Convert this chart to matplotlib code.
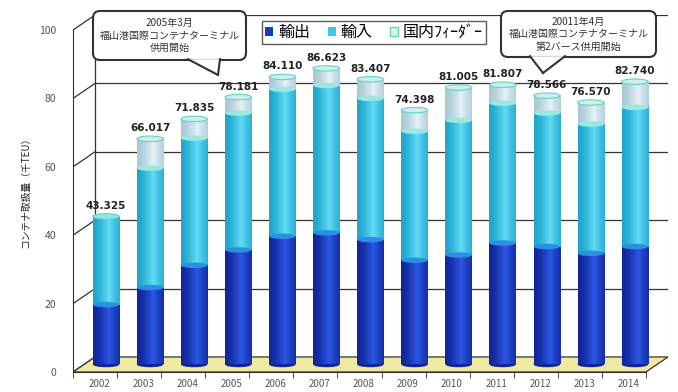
import matplotlib.pyplot as plt
from matplotlib.patches import Ellipse, Polygon, FancyBboxPatch, Patch
from matplotlib.lines import Line2D
from matplotlib.colors import to_rgb
from matplotlib.transforms import Affine2D
import numpy as np

plt.rcParams['font.family'] = ['Noto Sans CJK JP', 'DejaVu Sans']

# データ（千TEU）
years = ['2002', '2003', '2004', '2005', '2006', '2007', '2008',
         '2009', '2010', '2011', '2012', '2013', '2014']
export = [17.5, 22.5, 29.0, 33.5, 37.5, 38.5, 36.5, 30.5, 32.0, 35.5, 34.5, 32.5, 34.5]
imports = [25.8, 34.9, 37.2, 40.0, 43.0, 43.1, 41.3, 37.7, 39.4, 40.9, 39.0, 37.8, 40.7]
feeder = [0.0, 8.6, 5.6, 4.7, 3.6, 5.0, 5.6, 6.2, 9.6, 5.4, 5.1, 6.3, 7.5]
total_labels = ['43.325', '66.017', '71.835', '78.181', '84.110', '86.623', '83.407',
                '74.398', '81.005', '81.807', '78.566', '76.570', '82.740']
series_names = ['輸出', '輸入', '国内ﾌｨｰﾀﾞｰ']
yticks = [0, 20, 40, 60, 80, 100]

W, H = 678, 392
fig = plt.figure(figsize=(W / 100, H / 100), dpi=100)
# 画素座標（左上原点）用の変換
px = Affine2D().scale(1 / W, -1 / H).translate(0, 1) + fig.transFigure

# 奥行き（3D風）
dx, dy = 0.5, 4.4
ax = fig.add_axes([73 / W, (H - 372) / H, (668 - 73) / W, (372 - 15) / H])
ax.set_xlim(-0.5, 12.5 + dx)
ax.set_ylim(0, 100 + dy)

# 背面の壁と床
for v in yticks:
    ax.plot([-0.5, 0], [v, v + dy], color='#333333', lw=0.9, zorder=1)
    if v > 0:
        ax.plot([0, 13], [v + dy, v + dy], color='#333333', lw=0.9, zorder=1)
ax.plot([0, 0], [dy, 100 + dy], color='#333333', lw=0.9, zorder=1)
ax.plot([13, 13], [dy, 100 + dy], color='#bbbbbb', lw=0.8, zorder=1)
floor = Polygon([(-0.5, 0), (12.5, 0), (13, dy), (0, dy)], closed=True,
                fc='#efe9a2', ec='#333333', lw=0.9, zorder=2)
ax.add_patch(floor)

x = np.arange(len(years)) + dx / 2
base = dy / 2
ex = np.array(export)
im = np.array(imports)
fd = np.array(feeder)
bw = 0.6
eh = 1.6

def shade(bars, edge, mid, z):
    c1 = np.array(to_rgb(edge))
    c2 = np.array(to_rgb(mid))
    t = np.linspace(-1, 1, 64)
    w = (1 - np.abs(t - 0.2) / 1.2).clip(0, 1) ** 1.5
    grad = c1[None, :] * (1 - w[:, None]) + c2[None, :] * w[:, None]
    for r in bars:
        if r.get_height() <= 0:
            continue
        ax.imshow(grad[None, :, :], extent=[r.get_x(), r.get_x() + r.get_width(),
                                          r.get_y(), r.get_y() + r.get_height()],
                  aspect='auto', zorder=z, interpolation='bilinear')

b1 = ax.bar(x, ex, bw, bottom=base, color='#1a38c0', zorder=3)
b2 = ax.bar(x, im, bw, bottom=base + ex, color='#3cc8ea', zorder=3)
b3 = ax.bar(x, fd, bw, bottom=base + ex + im, color='#cfe6f0', zorder=3)
shade(b1, '#10259a', '#2d58e6', 3.1)
shade(b2, '#1fa6cc', '#62dcf7', 3.1)
shade(b3, '#a9c9d8', '#e6f2f7', 3.1)

for i in range(len(years)):
    ax.add_patch(Ellipse((x[i], base), bw, eh, fc='#10259a', ec='none', zorder=2.9))
    ax.add_patch(Ellipse((x[i], base + ex[i]), bw, eh, fc='#2b8fe2', ec='none', zorder=4))
    top_im = base + ex[i] + im[i]
    if fd[i] > 0:
        ax.add_patch(Ellipse((x[i], top_im), bw, eh, fc='#9ae8e0', ec='none', zorder=4))
        top = top_im + fd[i]
        ax.add_patch(Ellipse((x[i], top), bw, eh, fc='#d2ecf2', ec='#5fd8b8', lw=0.8, zorder=4))
    else:
        top = top_im
        ax.add_patch(Ellipse((x[i], top), bw, eh, fc='#8ee4f5', ec='#5fd8b8', lw=0.8, zorder=4))
    ax.text(x[i], top + 1.6, total_labels[i], ha='center', va='bottom',
            fontsize=7.5, fontweight='bold', color='#222222', zorder=5,
            family=['DejaVu Sans'])

# 軸
for s in ['top', 'right']:
    ax.spines[s].set_visible(False)
ax.spines['left'].set_bounds(0, 100)
ax.spines['bottom'].set_bounds(-0.5, 12.5)
ax.spines['left'].set_color('#333333')
ax.spines['bottom'].set_color('#333333')
ax.set_yticks(yticks)
ax.set_yticklabels([str(v) for v in yticks], fontsize=7.5, color='#555555')
ax.tick_params(axis='y', length=0, pad=12)
ax.set_xticks(np.arange(len(years)) + 0.1)
ax.set_xticklabels(years, fontsize=7, color='#555555')
ax.tick_params(axis='x', which='major', length=0, pad=5)
ax.set_xticks(np.arange(len(years) + 1) - 0.5, minor=True)
ax.tick_params(axis='x', which='minor', length=4, color='#333333')

fig.text(25 / W, 1 - 190 / H, 'コンテナ取扱量（千TEU）', rotation=90,
         fontsize=7, ha='center', va='center', color='#222222')

# 凡例
handles = [Patch(fc='#1a38c0', ec='none'), Patch(fc='#3cc8ea', ec='none'),
           Patch(fc='#d8f5ea', ec='#5fd8b8')]
leg = fig.legend(handles, series_names, loc='upper left',
                 bbox_to_anchor=(254 / W, 1 - 13 / H), ncol=3, fontsize=11.5,
                 frameon=True, fancybox=False, edgecolor='#333333',
                 handlelength=0.5, handleheight=0.5, handletextpad=0.3,
                 columnspacing=1.1, borderpad=0.2)
leg.get_frame().set_linewidth(1.0)

# 吹き出し
def callout(x0, y0, w, h, tail, text):
    box = FancyBboxPatch((x0, y0), w, h, boxstyle='round,pad=0,rounding_size=7',
                         transform=px, fc='white', ec='#333333', lw=1.5, zorder=10)
    fig.add_artist(box)
    (a, b, c) = tail
    fig.add_artist(Polygon([a, b, c], closed=True, transform=px, fc='white',
                           ec='none', zorder=11))
    fig.add_artist(Line2D([a[0], c[0]], [a[1], c[1]], transform=px,
                          color='#333333', lw=1.5, zorder=12))
    fig.add_artist(Line2D([b[0], c[0]], [b[1], c[1]], transform=px,
                          color='#333333', lw=1.5, zorder=12))
    fig.text((x0 + w / 2) / W, 1 - (y0 + h / 2) / H, text, ha='center', va='center',
             fontsize=7.2, color='#333333', linespacing=1.3, zorder=13)

callout(93, 11, 153, 49, [(188, 59.2), (220, 59.2), (218, 75)],
        '2005年3月\n福山港国際コンテナターミナル\n供用開始')
callout(501, 11, 155, 46, [(530, 56.2), (565, 56.2), (543, 73)],
        '20011年4月\n福山港国際コンテナターミナル\n第2バース供用開始')

fig.savefig('out.png', dpi=100)
